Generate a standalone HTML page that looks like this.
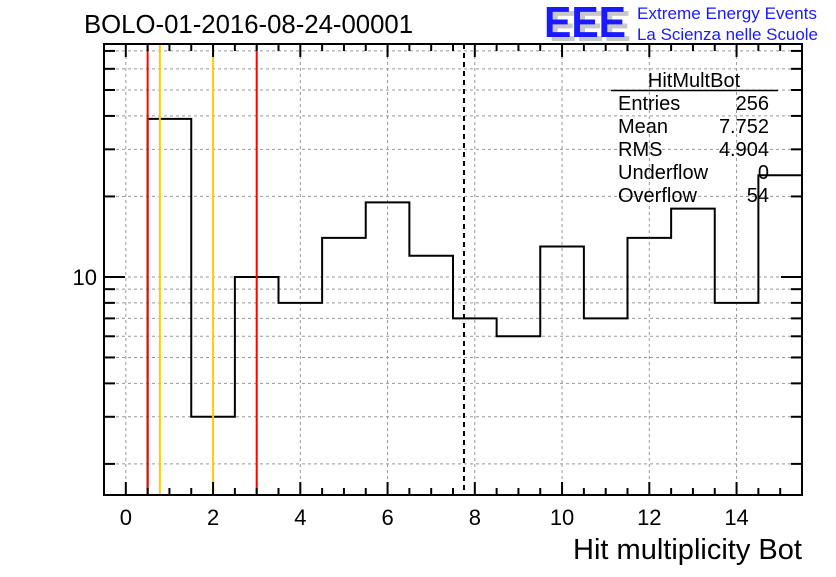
<!DOCTYPE html>
<html><head><meta charset="utf-8"><style>
body{margin:0;background:#fff;}
svg{font-family:"Liberation Sans",sans-serif;}
</style></head><body>
<svg width="836" height="572" viewBox="0 0 836 572" xmlns="http://www.w3.org/2000/svg">
<rect width="836" height="572" fill="#fff"/>
<text x="84" y="33" font-size="25.5" textLength="329" lengthAdjust="spacingAndGlyphs">BOLO-01-2016-08-24-00001</text>
<g>
<text x="549" y="41" font-size="44" font-weight="bold" fill="#c8c8c8" textLength="82" lengthAdjust="spacingAndGlyphs">EEE</text>
<text x="544" y="37" font-size="44" font-weight="bold" fill="#1a1aff" textLength="82" lengthAdjust="spacingAndGlyphs">EEE</text>
<text x="637" y="19" font-size="17" fill="#1a1aff" textLength="180" lengthAdjust="spacingAndGlyphs">Extreme Energy Events</text>
<text x="637" y="40" font-size="17" fill="#1a1aff" textLength="181" lengthAdjust="spacingAndGlyphs">La Scienza nelle Scuole</text>
</g>
<g id="grid"></g>
<g id="marks"></g>
<g id="axes"></g>
<g font-size="20">
<text x="694" y="87" text-anchor="middle">HitMultBot</text>
<line x1="611" y1="90.5" x2="778" y2="90.5" stroke="#000" stroke-width="1.5"/>
<text x="618" y="110">Entries</text><text x="769" y="110" text-anchor="end">256</text>
<text x="618" y="133">Mean</text><text x="769" y="133" text-anchor="end">7.752</text>
<text x="618" y="156">RMS</text><text x="769" y="156" text-anchor="end">4.904</text>
<text x="618" y="179">Underflow</text><text x="769" y="179" text-anchor="end">0</text>
<text x="618" y="202">Overflow</text><text x="769" y="202" text-anchor="end">54</text>
</g>
<text x="802" y="559" font-size="28.5" text-anchor="end" textLength="229" lengthAdjust="spacingAndGlyphs">Hit multiplicity Bot</text>
<script>
const binCenters=[0,1,2,3,4,5,6,7,8,9,10,11,12,13,14,15];
const binCounts=[0,39,3,10,8,14,19,12,7,6,13,7,14,18,8,24];
const redLines=[0.5,3];
const orangeLines=[0.78,2];
const meanValue=7.752;
const xTickLabels=[0,2,4,6,8,10,12,14];
const yMinorTicks=[2,3,4,5,6,7,8,9,20,30,40,50,60,70];
const yMajorTicks=[10];
const L=104,R=802,T=44,B=495,xmin=-0.5,xmax=15.5,ymin=1.53,ymax=74.3;
const X=v=>L+(v-xmin)/(xmax-xmin)*(R-L);
const Y=v=>B-(Math.log10(v)-Math.log10(ymin))/(Math.log10(ymax)-Math.log10(ymin))*(B-T);
const NS="http://www.w3.org/2000/svg";
function mk(p,tag,a){const e=document.createElementNS(NS,tag);for(const k in a)e.setAttribute(k,a[k]);p.appendChild(e);return e;}
const grid=document.getElementById('grid'),marks=document.getElementById('marks'),axes=document.getElementById('axes');
xTickLabels.forEach(v=>{const l=mk(grid,'line',{x1:X(v),x2:X(v),y1:T,y2:B,stroke:'#999','stroke-dasharray':'3,3','stroke-width':1});

});
yMinorTicks.concat(yMajorTicks).forEach(v=>{const l=mk(grid,'line',{x1:L,x2:R,y1:Y(v),y2:Y(v),stroke:'#999','stroke-dasharray':'3,3','stroke-width':1});

});
let d='',started=false;
binCenters.forEach((c,i)=>{const v=binCounts[i];if(v<=0){return;}
const x0=X(c-0.5),x1=X(c+0.5),y=Y(v);
if(!started){d+=`M${x0},${B}L${x0},${y}`;started=true;}else{d+=`L${x0},${y}`;}
d+=`L${x1},${y}`;});
const h=mk(marks,'path',{d:d,fill:'none',stroke:'#000','stroke-width':2});


redLines.forEach(v=>{const l=mk(marks,'line',{x1:X(v),x2:X(v),y1:T,y2:B,stroke:'#f00','stroke-width':2});

});
orangeLines.forEach(v=>{const l=mk(marks,'line',{x1:X(v),x2:X(v),y1:T,y2:B,stroke:'#ffcc00','stroke-width':2});

});
const m=mk(marks,'line',{x1:X(meanValue),x2:X(meanValue),y1:T,y2:B,stroke:'#000','stroke-width':2,'stroke-dasharray':'5,4'});


const f=mk(axes,'rect',{x:L,y:T,width:R-L,height:B-T,fill:'none',stroke:'#000','stroke-width':2});


for(let v=xmin;v<=xmax+1e-9;v+=0.5){const major=Math.abs(v%2)<1e-9;const len=major?13:7;
const t1=mk(axes,'line',{x1:X(v),x2:X(v),y1:B,y2:B-len,stroke:'#000','stroke-width':2});


const t2=mk(axes,'line',{x1:X(v),x2:X(v),y1:T,y2:T+len,stroke:'#000','stroke-width':2});

}
xTickLabels.forEach(v=>{const t=mk(axes,'text',{x:X(v),y:525,'font-size':22,'text-anchor':'middle'});t.textContent=v;

});
yMinorTicks.forEach(v=>{[[L,L+11],[R,R-11]].forEach(p=>{const t=mk(axes,'line',{x1:p[0],x2:p[1],y1:Y(v),y2:Y(v),stroke:'#000','stroke-width':2});

});});
yMajorTicks.forEach(v=>{[[L,L+21],[R,R-21]].forEach(p=>{const t=mk(axes,'line',{x1:p[0],x2:p[1],y1:Y(v),y2:Y(v),stroke:'#000','stroke-width':2});

});
const tl=mk(axes,'text',{x:97,y:Y(v)+8,'font-size':22,'text-anchor':'end'});tl.textContent=v;

});
</script>
</svg>
</body></html>
